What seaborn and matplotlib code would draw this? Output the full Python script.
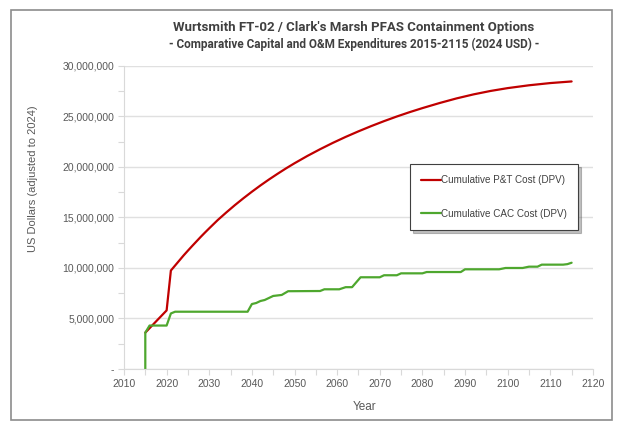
import pandas as pd
import matplotlib.pyplot as plt
import seaborn as sns
from matplotlib.patches import Rectangle
from matplotlib.ticker import MultipleLocator, FuncFormatter

# Cumulative P&T cost (millions of 2024 USD)
pt_years = [2015, 2020, 2021, 2022, 2023, 2024, 2025, 2026, 2027, 2028, 2029,
            2030, 2032, 2034, 2036, 2038, 2040, 2042, 2044, 2046, 2048, 2050,
            2053, 2056, 2059, 2062, 2065, 2068, 2071, 2074, 2077, 2080, 2084,
            2088, 2092, 2096, 2100, 2105, 2110, 2115]
pt_cost = [3.6, 5.8, 9.75, 10.25, 10.75, 11.25, 11.72, 12.18, 12.63, 13.08, 13.51,
           13.93, 14.75, 15.5, 16.22, 16.9, 17.55, 18.17, 18.76, 19.32, 19.86, 20.37,
           21.09, 21.76, 22.39, 22.98, 23.53, 24.05, 24.54, 25.0, 25.43, 25.83, 26.33,
           26.79, 27.19, 27.53, 27.81, 28.09, 28.31, 28.47]

# Cumulative CAC cost (millions of 2024 USD), breakpoints of the step-like curve
cac_years = [2015, 2015, 2016, 2020, 2021, 2022, 2039, 2040, 2041, 2042, 2043,
             2045, 2047, 2048.5, 2056, 2057, 2060.5, 2062, 2063.5, 2065.5, 2070,
             2071, 2074, 2075, 2080, 2081, 2089, 2090, 2098, 2099.5, 2103.5, 2105,
             2107, 2108, 2113, 2114, 2115]
cac_cost = [0.0, 3.6, 4.3, 4.3, 5.5, 5.67, 5.67, 6.43, 6.53, 6.73, 6.83,
            7.23, 7.33, 7.7, 7.72, 7.89, 7.89, 8.1, 8.1, 9.08, 9.08,
            9.28, 9.28, 9.47, 9.47, 9.6, 9.6, 9.87, 9.87, 10.0, 10.0, 10.13,
            10.13, 10.33, 10.33, 10.38, 10.52]

pt = pd.DataFrame({"Year": pt_years, "Cost": [c * 1e6 for c in pt_cost]})
cac = pd.DataFrame({"Year": cac_years, "Cost": [c * 1e6 for c in cac_cost]})

sns.set_style("white")
plt.rcParams["font.family"] = ["Liberation Sans", "DejaVu Sans"]

fig = plt.figure(figsize=(6.24, 4.28), dpi=100)
ax = fig.add_axes([0.1987, 0.1379, 0.7515, 0.7079])

sns.lineplot(data=pt, x="Year", y="Cost", ax=ax, color="#C00000", linewidth=1.6,
             estimator=None, sort=False, label="Cumulative P&T Cost (DPV)")
sns.lineplot(data=cac, x="Year", y="Cost", ax=ax, color="#4EA72E", linewidth=1.6,
             estimator=None, sort=False, label="Cumulative CAC Cost (DPV)")

ax.set_xlim(2010, 2120)
ax.set_ylim(0, 30e6)
ax.xaxis.set_major_locator(MultipleLocator(10))
ax.xaxis.set_minor_locator(MultipleLocator(5))
ax.yaxis.set_major_locator(MultipleLocator(5e6))
ax.yaxis.set_minor_locator(MultipleLocator(2.5e6))
ax.yaxis.set_major_formatter(FuncFormatter(lambda v, p: "-" if v == 0 else f"{v:,.0f}"))

ax.grid(axis="y", which="major", color="#e0e0e0", linewidth=1.0)
for side in ["top", "right"]:
    ax.spines[side].set_visible(False)
for side in ["left", "bottom"]:
    ax.spines[side].set_color("#d9d9d9")
ax.tick_params(which="both", direction="out", color="#d9d9d9", length=4, width=0.8,
               labelsize=7.5, labelcolor="#595959", pad=3)
ax.tick_params(axis="x", which="both", bottom=True)
ax.tick_params(axis="y", which="both", left=True)

ax.set_xlabel("Year", fontsize=8.5, color="#595959")
ax.set_ylabel("US Dollars (adjusted to 2024)", fontsize=8, color="#595959")
ax.xaxis.set_label_coords(0.512, -0.106)
ax.yaxis.set_label_coords(-0.183, 0.627)

leg = ax.legend(loc="upper left", bbox_to_anchor=(0.61, 0.677), fontsize=7.1,
                frameon=True, fancybox=False,
                shadow={"ox": 2, "oy": -2, "alpha": 0.35},
                framealpha=1, edgecolor="#404040", handlelength=2.0,
                handletextpad=0.0, labelspacing=2.4, borderpad=1.15, borderaxespad=0)
for t in leg.get_texts():
    t.set_color("#404040")
leg.get_frame().set_linewidth(0.8)

title_font = ["Roboto", "DejaVu Sans"]
fig.text(0.567, 0.9346, "Wurtsmith FT-02 / Clark's Marsh PFAS Containment Options",
         ha="center", va="center", fontsize=9.5, fontweight="bold",
         color="#404040", family=title_font)
fig.text(0.567, 0.897, "- Comparative Capital and O&M Expenditures 2015-2115 (2024 USD) -",
         ha="center", va="center", fontsize=8.5, fontweight="bold",
         color="#404040", family=title_font)

# outer chart border
fig.patches.append(Rectangle((0.0176, 0.0187), 0.9634, 0.958, transform=fig.transFigure,
                             fill=False, edgecolor="#8c8c8c", linewidth=1.2))

fig.savefig("out.png", dpi=100)
